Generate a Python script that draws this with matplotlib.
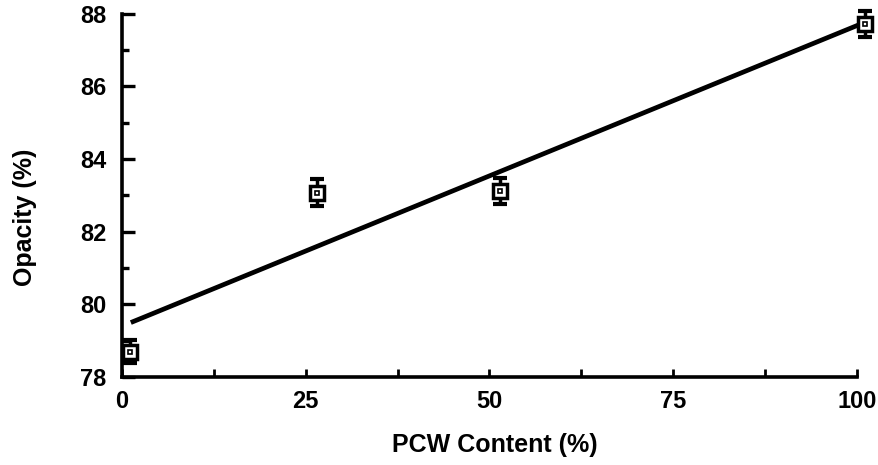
import matplotlib
matplotlib.use("Agg")
import matplotlib.pyplot as plt
from matplotlib.ticker import MultipleLocator

plt.rcParams['font.family'] = ['Liberation Sans', 'DejaVu Sans']

# PCW content vs. opacity measurements
pcw = [1.1, 26.5, 51.4, 101.1]
opacity = [78.7, 83.07, 83.12, 87.72]
opacity_err = [0.32, 0.37, 0.35, 0.35]

# fitted trend line end points
fit_x = [1.2, 101.5]
fit_y = [79.5, 87.8]

fig = plt.figure(figsize=(8.79, 4.65), dpi=100)
ax = fig.add_axes([0.1388, 0.1892, 0.836, 0.781])

ax.plot(fit_x, fit_y, color='black', lw=3.4, solid_capstyle='butt', clip_on=False, zorder=2)
ax.errorbar(pcw, opacity, yerr=opacity_err, fmt='none', ecolor='black',
            elinewidth=2.5, capsize=5, capthick=3, clip_on=False, zorder=3)
ax.plot(pcw, opacity, ls='none', marker='s', ms=10, mfc='white', mec='black',
        mew=2.5, clip_on=False, zorder=4)
ax.plot(pcw, opacity, ls='none', marker='s', ms=3.5, mfc='white', mec='black',
        mew=1.2, clip_on=False, zorder=5)

ax.set_xlim(0, 100)
ax.set_ylim(78, 88)
ax.xaxis.set_major_locator(MultipleLocator(25))
ax.xaxis.set_minor_locator(MultipleLocator(12.5))
ax.yaxis.set_major_locator(MultipleLocator(2))
ax.yaxis.set_minor_locator(MultipleLocator(1))

for side in ['top', 'right']:
    ax.spines[side].set_visible(False)
for side in ['left', 'bottom']:
    ax.spines[side].set_linewidth(2.6)

ax.tick_params(axis='x', which='both', direction='in', length=6, width=2, pad=9,
               labelsize=17)
ax.tick_params(axis='y', which='major', direction='in', length=9, width=2.4, pad=11,
               labelsize=17)
ax.tick_params(axis='y', which='minor', direction='in', length=5, width=2.4)
for lbl in ax.get_xticklabels() + ax.get_yticklabels():
    lbl.set_fontweight('bold')

ax.set_xlabel('PCW Content (%)', fontsize=18, fontweight='bold')
ax.set_ylabel('Opacity (%)', fontsize=18, fontweight='bold')
ax.xaxis.set_label_coords(0.508, -0.155)
ax.yaxis.set_label_coords(-0.116, 0.44)

fig.savefig('out.png', dpi=100)
